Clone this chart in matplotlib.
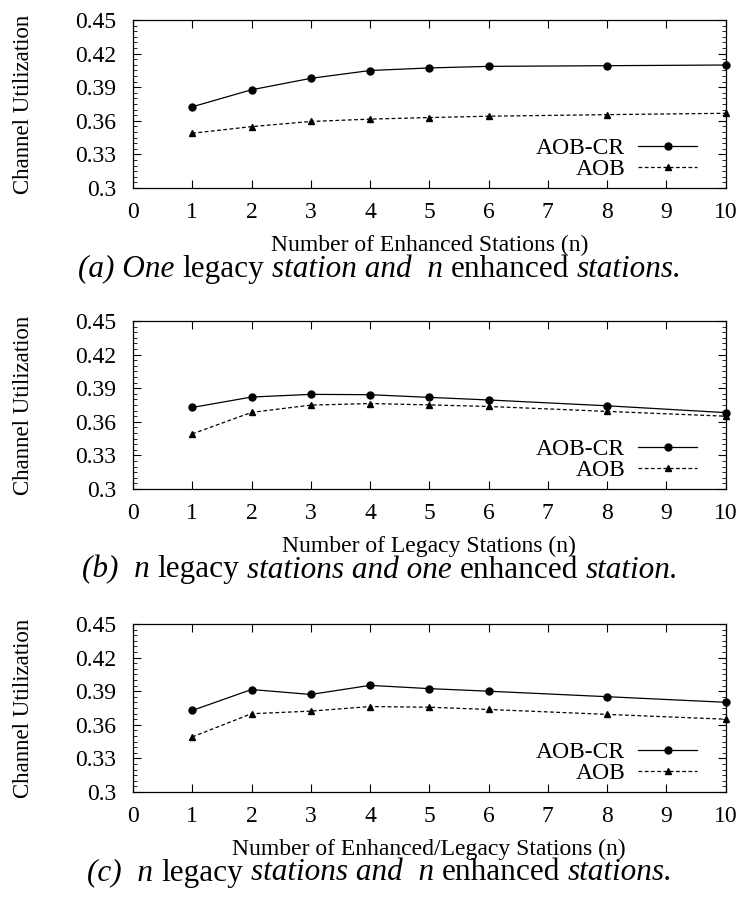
import numpy as np
import matplotlib
matplotlib.use("Agg")
from matplotlib import pyplot as plt
from matplotlib.ticker import AutoMinorLocator

plt.rcParams['font.family'] = ['Liberation Serif', 'DejaVu Serif']

# number of stations (n)
n_values = [1, 2, 3, 4, 5, 6, 8, 10]

# (a) one legacy station, n enhanced stations
aobcr_a = [0.3725, 0.3877, 0.3979, 0.4049, 0.4072, 0.4086, 0.4092, 0.4098]
aob_a = [0.3489, 0.3548, 0.3594, 0.3615, 0.3629, 0.3641, 0.3655, 0.3667]

# (b) n legacy stations, one enhanced station
aobcr_b = [0.3728, 0.3821, 0.3845, 0.3842, 0.3818, 0.3795, 0.3743, 0.3682]
aob_b = [0.3492, 0.3684, 0.3749, 0.3763, 0.3751, 0.3737, 0.3693, 0.3650]

# (c) n legacy stations, n enhanced stations
aobcr_c = [0.3728, 0.3915, 0.3871, 0.3952, 0.3923, 0.3900, 0.3851, 0.3801]
aob_c = [0.3492, 0.3699, 0.3722, 0.3763, 0.3757, 0.3737, 0.3693, 0.3650]

yticks = [0.3, 0.33, 0.36, 0.39, 0.42, 0.45]
xticks = list(range(11))

xlabels = ['Number of Enhanced Stations (n)',
           'Number of Legacy Stations (n)',
           'Number of Enhanced/Legacy Stations (n)']
# caption pieces: (text, italic?)
captions = [
    [('(a) One', True), ('legacy', False), ('station and  n', True),
     ('enhanced', False), ('stations.', True)],
    [('(b)  n', True), ('legacy', False), ('stations and one', True),
     ('enhanced', False), ('station.', True)],
    [('(c)  n', True), ('legacy', False), ('stations and  n', True),
     ('enhanced', False), ('stations.', True)],
]
series = [(aobcr_a, aob_a), (aobcr_b, aob_b), (aobcr_c, aob_c)]

W, H = 743, 906
fig = plt.figure(figsize=(W / 100, H / 100), dpi=100)
renderer = fig.canvas.get_renderer()

left_px, right_px = 133, 725.5
ax_h = 168
tops = [20, 321, 624]
cap_size = 22.5


def text_width(s, style):
    t = fig.text(0, 0, s, fontsize=cap_size, style=style)
    w = t.get_window_extent(renderer).width
    t.remove()
    return w


def draw_caption(pieces, xc, y):
    space = text_width('a a', 'normal') - text_width('aa', 'normal')
    widths = [text_width(s.replace(' ', '\u00a0'), 'italic' if it else 'normal')
              for s, it in pieces]
    total = sum(widths) + space * (len(pieces) - 1)
    x = xc - total / 2
    for (s, it), w in zip(pieces, widths):
        fig.text(x / W, y, s, fontsize=cap_size,
                 style='italic' if it else 'normal', ha='left', va='center')
        x += w + space


for top, (cr, plain), xl, cap in zip(tops, series, xlabels, captions):
    ax = fig.add_axes([left_px / W, 1 - (top + ax_h) / H,
                       (right_px - left_px) / W, ax_h / H])
    ax.plot(n_values, cr, color='black', lw=0.9, marker='o', ms=5,
            label='AOB-CR', clip_on=False)
    ax.plot(n_values, plain, color='black', lw=0.9, ls=(0, (3, 2)),
            marker='^', ms=4, label='AOB', clip_on=False)
    ax.set_xlim(0, 10)
    ax.set_ylim(0.3, 0.45)
    ax.set_xticks(xticks)
    ax.set_yticks(yticks)
    ax.set_yticklabels(['%g' % v for v in yticks])
    ax.yaxis.set_minor_locator(AutoMinorLocator(6))
    ax.tick_params(direction='in', top=True, right=True, labelsize=17,
                   length=6, width=0.8)
    ax.tick_params(axis='y', which='minor', direction='in', right=True,
                   length=3, width=0.6)
    ax.tick_params(axis='x', pad=10)
    ax.tick_params(axis='y', pad=12)
    for s in ax.spines.values():
        s.set_linewidth(0.9)

    ax.set_xlabel(xl, fontsize=17)
    ax.xaxis.label.set_va('center')
    ax.xaxis.set_label_coords(0.5, -57 / ax_h)
    ax.set_ylabel('Channel Utilization', fontsize=16.5)
    ax.yaxis.label.set_va('center')
    ax.yaxis.set_label_coords((24 - left_px) / (right_px - left_px), 0.5)

    ax.legend(loc='lower right', bbox_to_anchor=(0.952, 0.045),
              frameon=False, markerfirst=False, fontsize=17,
              handlelength=2.5, handletextpad=0.55, labelspacing=0.0,
              borderpad=0, borderaxespad=0)

    draw_caption(cap, 380, 1 - (top + ax_h + 81) / H)

fig.savefig('out.png', dpi=100)
